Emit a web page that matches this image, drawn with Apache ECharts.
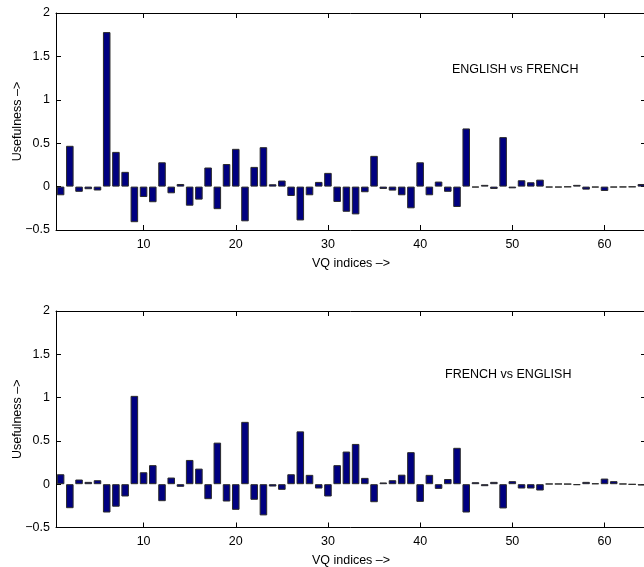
<!DOCTYPE html>
<html>
<head>
<meta charset="utf-8">
<script src="https://cdn.jsdelivr.net/npm/echarts@6/dist/echarts.min.js"></script>
<style>html,body{margin:0;padding:0;background:#fff;}#c{width:644px;height:567px;}</style>
</head>
<body>
<div id="c"></div>
<script>
var indices = [1,2,3,4,5,6,7,8,9,10,11,12,13,14,15,16,17,18,19,20,21,22,23,24,25,26,27,28,29,30,31,32,33,34,35,36,37,38,39,40,41,42,43,44,45,46,47,48,49,50,51,52,53,54,55,56,57,58,59,60,61,62,63,64];
var englishVsFrench = [-0.10,0.47,-0.06,-0.03,-0.045,1.78,0.40,0.17,-0.41,-0.12,-0.18,0.28,-0.077,0.03,-0.22,-0.15,0.22,-0.26,0.26,0.435,-0.40,0.227,0.454,0.027,0.07,-0.108,-0.39,-0.10,0.054,0.158,-0.177,-0.29,-0.32,-0.065,0.354,-0.027,-0.046,-0.10,-0.25,0.28,-0.10,0.058,-0.06,-0.235,0.67,-0.01,0.02,-0.027,0.57,-0.02,0.073,0.05,0.08,-0.01,-0.01,-0.005,0.02,-0.035,-0.01,-0.05,-0.01,-0.008,-0.005,0.03];
var frenchVsEnglish = [0.115,-0.277,0.054,0.027,0.046,-0.327,-0.26,-0.142,1.02,0.138,0.22,-0.196,0.077,-0.03,0.28,0.18,-0.173,0.48,-0.20,-0.296,0.72,-0.18,-0.36,-0.027,-0.065,0.115,0.61,0.108,-0.05,-0.142,0.22,0.377,0.465,0.073,-0.208,0.02,0.046,0.11,0.37,-0.204,0.108,-0.054,0.06,0.42,-0.327,0.023,-0.023,0.027,-0.28,0.035,-0.05,-0.05,-0.073,0.005,0.005,0.003,-0.01,0.027,0.01,0.065,0.035,0.005,-0.003,-0.015];
var yTicks = [-0.5,0,0.5,1,1.5,2];
var xLabelTicks = [10,20,30,40,50,60];
var titles = ['ENGLISH vs FRENCH','FRENCH vs ENGLISH'];
var xName = 'VQ indices \u2013>';
var yName = 'Usefulness \u2013>';

var FONT = 'Liberation Sans, Arial, Helvetica, sans-serif';
var chart = echarts.init(document.getElementById('c'), null, {renderer:'canvas'});
function showTick(idx, val){ return xLabelTicks.indexOf(Number(val)) >= 0; }
function fmtY(v){ return String(v).replace('-', '\u2212'); }

var grids = [
  {left:56, top:13, width:590, height:217, containLabel:false, outerBoundsMode:'none'},
  {left:56, top:311, width:590, height:216.5, containLabel:false, outerBoundsMode:'none'}
];
var xAxes = [], yAxes = [], series = [];
[englishVsFrench, frenchVsEnglish].forEach(function(vals, g){
  xAxes.push({
    type:'category', gridIndex:g, data:indices, position:'bottom',
    name:xName, nameLocation:'middle', nameGap:27, nameMoveOverlap:false,
    nameTextStyle:{color:'#000', fontSize:12.5, fontFamily:FONT},
    axisLine:{show:true, onZero:false, lineStyle:{color:'#000', width:1}},
    axisTick:{show:true, inside:true, length:5, alignWithLabel:true, interval:showTick, lineStyle:{color:'#000'}},
    axisLabel:{show:true, interval:showTick, color:'#000', fontSize:12.5, fontFamily:FONT, margin:8},
    splitLine:{show:false}
  });
  xAxes.push({
    type:'category', gridIndex:g, data:indices, position:'top',
    axisLine:{show:true, onZero:false, lineStyle:{color:'#000', width:1}},
    axisTick:{show:true, inside:true, length:5, alignWithLabel:true, interval:showTick, lineStyle:{color:'#000'}},
    axisLabel:{show:false}, splitLine:{show:false}
  });
  yAxes.push({
    type:'value', gridIndex:g, min:-0.5, max:2, interval:0.5, position:'left',
    name:yName, nameLocation:'middle', nameGap:32, nameMoveOverlap:false,
    nameTextStyle:{color:'#000', fontSize:12.5, fontFamily:FONT},
    axisLine:{show:true, onZero:false, lineStyle:{color:'#000', width:1}},
    axisTick:{show:true, inside:true, length:5, lineStyle:{color:'#000'}},
    axisLabel:{show:true, color:'#000', fontSize:12.5, fontFamily:FONT, margin:6, formatter:fmtY},
    splitLine:{show:false}
  });
  yAxes.push({
    type:'value', gridIndex:g, min:-0.5, max:2, interval:0.5, position:'right',
    axisLine:{show:true, onZero:false, lineStyle:{color:'#000', width:1}},
    axisTick:{show:true, inside:true, length:5, lineStyle:{color:'#000'}},
    axisLabel:{show:false}, splitLine:{show:false}
  });
  series.push({
    type:'bar', xAxisIndex:g*2, yAxisIndex:g*2, data:vals,
    barCategoryGap:'18%',
    itemStyle:{color:'#000080', borderColor:'#2a2a2a', borderWidth:1},
    silent:true, animation:false
  });
});

chart.setOption({
  animation:false,
  backgroundColor:'#fff',
  grid:grids,
  xAxis:xAxes,
  yAxis:yAxes,
  series:series,
  graphic:[
    {type:'text', left:452, top:63, style:{text:titles[0], fill:'#000', font:'12.5px ' + FONT}},
    {type:'text', left:445, top:368, style:{text:titles[1], fill:'#000', font:'12.5px ' + FONT}}
  ]
});
</script>
</body>
</html>
